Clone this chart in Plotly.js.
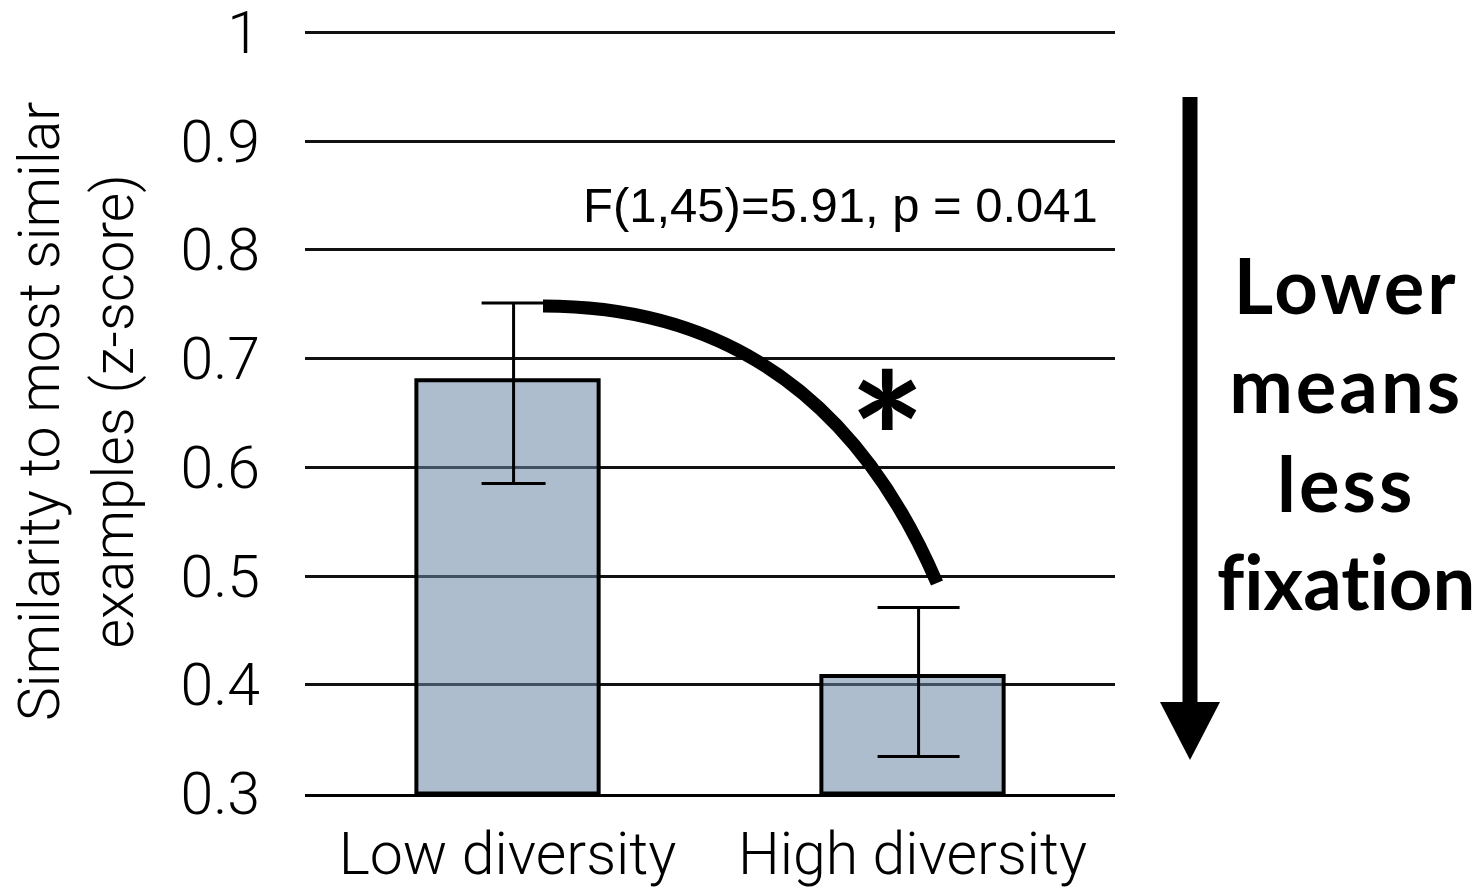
<!DOCTYPE html>
<html>
<head>
<meta charset="utf-8">
<script src="https://cdn.plot.ly/plotly-3.0.1.min.js"></script>
<style>html,body{margin:0;padding:0;background:#fff;}#chart{width:1481px;height:888px;}</style>
</head>
<body>
<div id="chart"></div>
<script>
// ---- data ----
const categories = ["Low diversity", "High diversity"];
const means = [0.680, 0.408];
const errPlus = [0.071, 0.063];
const errMinus = [0.095, 0.074];
const yTickVals = [0.3, 0.4, 0.5, 0.6, 0.7, 0.8, 0.9, 1];
const yTickText = ["0.3", "0.4", "0.5", "0.6", "0.7", "0.8", "0.9", "1"];
const statText = "F(1,45)=5.91, p = 0.041";
const yTitleLines = ["Similarity to most similar", "examples (z-score)"];
const sideNoteLines = ["Lower", "means", "less", "fixation"];

// ---- styles ----
const lightFont = {family: "Roboto, 'Liberation Sans', sans-serif", size: 59, color: "#000", weight: 300};
const titleFont = {family: "Roboto, 'Liberation Sans', sans-serif", size: 57, color: "#000", weight: 300};
const idx = categories.map((c, i) => i);
const capWidths = [32, 41];
const errOffset = 0.015;
const sideSpacing = [3, 3, 3, 0];

const traces = [{
  type: "bar",
  x: idx,
  y: means.map(v => v - 0.3),
  base: 0.3,
  width: 0.45,
  marker: {color: "rgba(105,135,164,0.55)", line: {color: "#000", width: 4}},
  hoverinfo: "skip",
  showlegend: false
}];
categories.forEach((c, i) => {
  traces.push({
    type: "scatter",
    mode: "markers",
    x: [i + errOffset],
    y: [means[i]],
    marker: {size: 1, color: "rgba(0,0,0,0)"},
    error_y: {type: "data", symmetric: false, array: [errPlus[i]], arrayminus: [errMinus[i]],
              color: "#000", thickness: 3, width: capWidths[i]},
    hoverinfo: "skip",
    showlegend: false
  });
});

// layout geometry: y=0.3 at 794px, y=1 at 32.3px
const W = 1481, H = 888, L = 305, R = 366, B = 94;
const yLo = 0.2995, yHi = 1.004;
const pxPerUnit = (794 - 32.3) / 0.7;
const T = Math.round(32.3 - (yHi - 1) * pxPerUnit);
const pw = W - L - R, ph = H - T - B;
const px = x => (x - L) / pw;
const py = y => (H - B - y) / ph;

const curvePath = `M ${px(543)} ${py(306)} Q ${px(818)} ${py(306)} ${px(937)} ${py(583)}`;
const headPath = `M ${px(1160)} ${py(702)} L ${px(1220)} ${py(702)} L ${px(1190)} ${py(760)} Z`;

const sideText = sideNoteLines
  .map((s, i) => `<span style="font-variant-ligatures:none;letter-spacing:${sideSpacing[i]}px">${s}</span>`)
  .join("<br>");

const layout = {
  width: W, height: H,
  margin: {l: L, r: R, t: T, b: B},
  paper_bgcolor: "#fff", plot_bgcolor: "#fff",
  showlegend: false,
  xaxis: {
    type: "linear", range: [-0.5, 1.5],
    tickvals: idx, ticktext: categories,
    showgrid: false, zeroline: false,
    showline: true, linecolor: "#000", linewidth: 3,
    ticks: "", ticklabelstandoff: 6, ticklabeloverflow: "allow",
    tickfont: lightFont, fixedrange: true
  },
  yaxis: {
    range: [yLo, yHi],
    tickvals: yTickVals, ticktext: yTickText,
    showgrid: true, gridcolor: "#111", gridwidth: 3,
    zeroline: false, showline: false,
    ticks: "", ticklabelstandoff: 44, ticklabeloverflow: "allow",
    tickfont: lightFont, fixedrange: true
  },
  shapes: [
    {type: "path", xref: "paper", yref: "paper", path: curvePath,
     line: {color: "#000", width: 13}, fillcolor: "rgba(0,0,0,0)"},
    {type: "line", xref: "paper", yref: "paper",
     x0: px(1190), x1: px(1190), y0: py(97), y1: py(706),
     line: {color: "#000", width: 15}},
    {type: "path", xref: "paper", yref: "paper", path: headPath,
     fillcolor: "#000", line: {color: "#000", width: 0}}
  ],
  annotations: [
    {xref: "paper", yref: "paper", x: px(1100), y: py(205), xanchor: "right", yanchor: "middle",
     text: statText, showarrow: false,
     font: {family: "'Liberation Sans', Arial, sans-serif", size: 49, color: "#000"}},
    {xref: "paper", yref: "paper", x: px(887), y: py(436), xanchor: "center", yanchor: "middle",
     text: "*", showarrow: false,
     font: {family: "Lato, sans-serif", size: 180, color: "#000", weight: 700}},
    {xref: "paper", yref: "paper", x: px(1346), y: py(432), xanchor: "center", yanchor: "middle",
     text: sideText, showarrow: false, align: "center",
     font: {family: "Lato, sans-serif", size: 76, color: "#000", weight: 700}},
    {xref: "paper", yref: "paper", x: px(76), y: py(411), xanchor: "center", yanchor: "middle",
     text: yTitleLines.join("<br>"), showarrow: false, textangle: -90, align: "center",
     font: titleFont}
  ]
};

Plotly.newPlot("chart", traces, layout, {displayModeBar: false, staticPlot: true});
</script>
</body>
</html>
